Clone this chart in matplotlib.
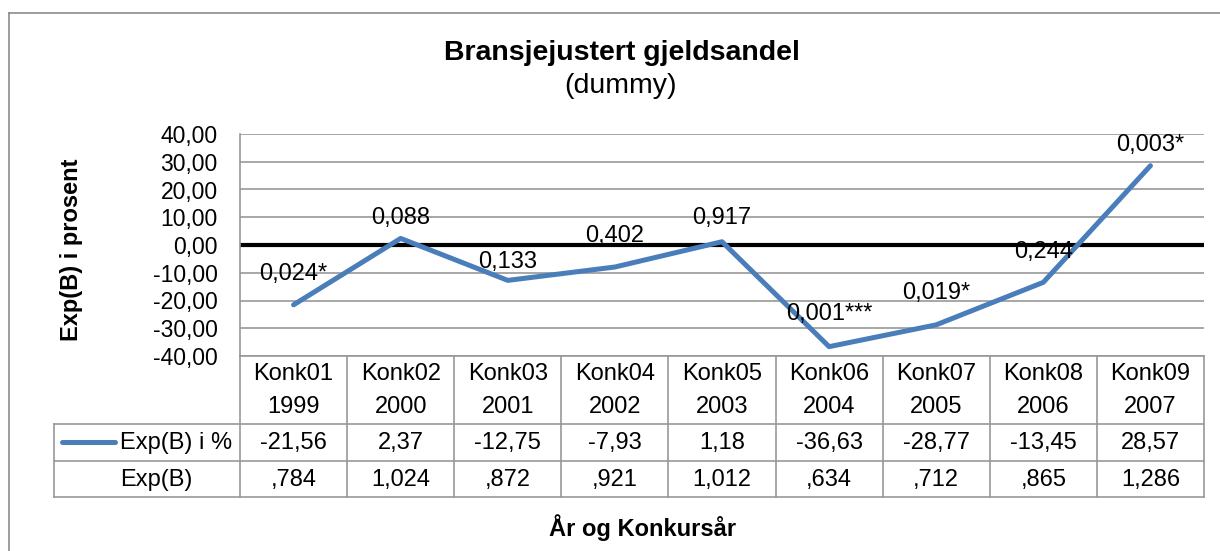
import numpy as np
import matplotlib.pyplot as plt
from matplotlib.lines import Line2D

plt.rcParams['font.family'] = ['Liberation Sans', 'DejaVu Sans']

categories = ['Konk01', 'Konk02', 'Konk03', 'Konk04', 'Konk05',
              'Konk06', 'Konk07', 'Konk08', 'Konk09']
years = ['1999', '2000', '2001', '2002', '2003', '2004', '2005', '2006', '2007']
exp_b_pct = [-21.56, 2.37, -12.75, -7.93, 1.18, -36.63, -28.77, -13.45, 28.57]
exp_b = [0.784, 1.024, 0.872, 0.921, 1.012, 0.634, 0.712, 0.865, 1.286]
sig_labels = ['0,024*', '0,088', '0,133', '0,402', '0,917',
              '0,001***', '0,019*', '0,244', '0,003*']

# label offset above the point, in pixels (Excel labels were moved by hand)
lbl_off = [31, 20, 18, 31, 24, 33, 32, 30, 21]

W, H = 1220, 551
BLUE = '#4A7EBB'
GRID = '#989898'
FS = 17


def fx(px):
    return px / W


def fy(py):
    return 1 - py / H


fig = plt.figure(figsize=(W / 100, H / 100), dpi=100)

ax = fig.add_axes([fx(240), fy(356), fx(1204) - fx(240), fy(134) - fy(356)])
x = np.arange(len(categories))
ax.set_xlim(-0.5, len(categories) - 0.5)
ax.set_ylim(-40, 40)
ax.set_yticks(np.arange(-40, 41, 10))
ax.set_yticklabels([f'{v:.2f}'.replace('.', ',') for v in np.arange(-40, 41, 10)],
                   fontsize=16.5)
ax.set_xticks([])
ax.yaxis.grid(True, color=GRID, lw=1.2)
ax.set_axisbelow(True)
ax.tick_params(axis='y', length=0, pad=16)
for s in ['top', 'right', 'bottom']:
    ax.spines[s].set_visible(False)
ax.spines['left'].set_color(GRID)
ax.spines['left'].set_linewidth(1.2)

ax.axhline(0, color='black', lw=3.0, zorder=2)
ax.plot(x, exp_b_pct, color=BLUE, lw=3.6, solid_capstyle='round', zorder=3)

for i, (v, lbl) in enumerate(zip(exp_b_pct, sig_labels)):
    ax.annotate(lbl, (i, v), xytext=(0, lbl_off[i] * 0.72), textcoords='offset points',
                ha='center', va='center', fontsize=FS, zorder=4)

ax.set_ylabel('Exp(B) i prosent', fontsize=FS, fontweight='bold')
ax.yaxis.set_label_coords(fx(83), fy(250), transform=fig.transFigure)

# data table below the plot
to_fig = ax.transData + fig.transFigure.inverted()
edges = [to_fig.transform((e, 0))[0] for e in np.arange(-0.5, len(categories), 1.0)]
centers = [to_fig.transform((c, 0))[0] for c in x]
leg_left = fx(54)


def hline(x0, x1, py):
    fig.add_artist(Line2D([x0, x1], [fy(py), fy(py)], color=GRID, lw=1.2))


def vline(xf, py0, py1):
    fig.add_artist(Line2D([xf, xf], [fy(py0), fy(py1)], color=GRID, lw=1.2))


hline(edges[0], edges[-1], 356)
for py in [424, 461, 497]:
    hline(leg_left, edges[-1], py)
for e in edges:
    vline(e, 356, 497)
vline(leg_left, 424, 497)

for c, cat, yr in zip(centers, categories, years):
    fig.text(c, fy(374), cat, ha='center', va='center', fontsize=FS)
    fig.text(c, fy(407), yr, ha='center', va='center', fontsize=FS)

pct_txt = [f'{v:.2f}'.replace('.', ',') for v in exp_b_pct]
expb_txt = [f'{v:.3f}'.replace('.', ',').lstrip('0') for v in exp_b]
for c, p, e in zip(centers, pct_txt, expb_txt):
    fig.text(c, fy(443), p, ha='center', va='center', fontsize=FS)
    fig.text(c, fy(480), e, ha='center', va='center', fontsize=FS)

fig.add_artist(Line2D([fx(62), fx(115)], [fy(442), fy(442)], color=BLUE, lw=3.6,
                      solid_capstyle='round'))
fig.text(fx(120), fy(443), 'Exp(B) i %', ha='left', va='center', fontsize=FS)
fig.text(fx(120), fy(480), 'Exp(B)', ha='left', va='center', fontsize=FS)

# titles
fig.text(fx(622), fy(53), 'Bransjejustert gjeldsandel', ha='center', va='center',
         fontsize=20.5, fontweight='bold')
fig.text(fx(620), fy(86), '(dummy)', ha='center', va='center', fontsize=20.5)
fig.text(fx(643), fy(528), 'År og Konkursår', ha='center', va='center',
         fontsize=FS, fontweight='bold')

# chart area frame (only top and left edges fall inside the image)
fig.add_artist(Line2D([fx(9), fx(9)], [fy(13), 0], color='#8C8C8C', lw=1.2))
fig.add_artist(Line2D([fx(9), 1], [fy(13), fy(13)], color='#8C8C8C', lw=1.2))

fig.savefig('out.png', dpi=100)
